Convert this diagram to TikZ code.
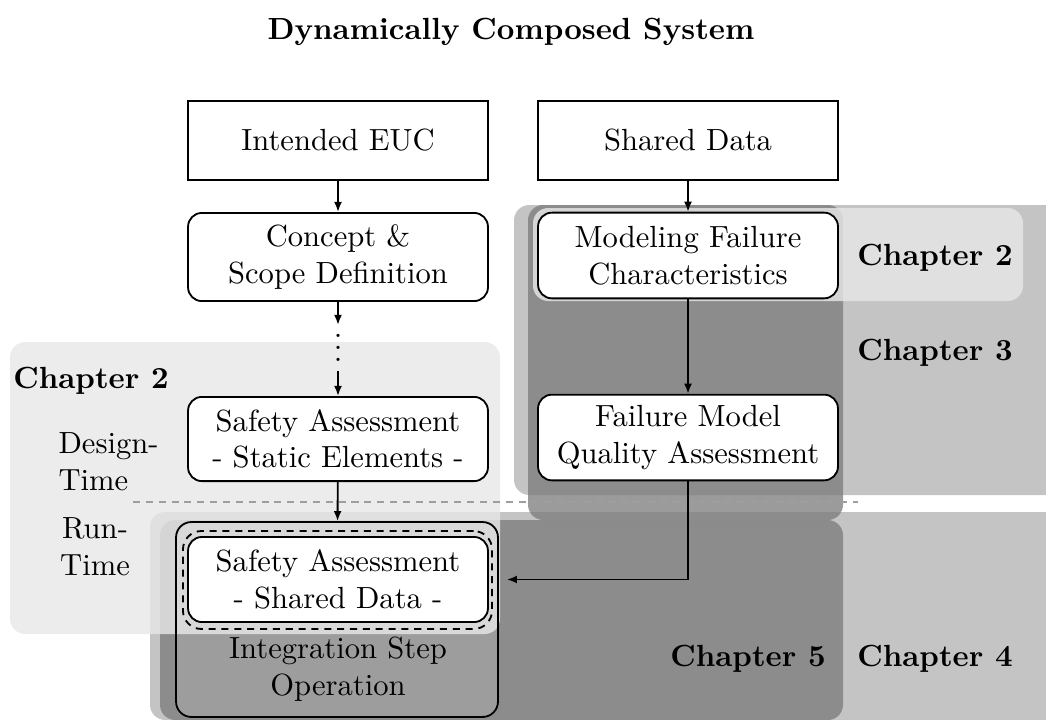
\documentclass[tikz,border=0pt]{standalone}
\usetikzlibrary{arrows.meta,calc,backgrounds}
\definecolor{chlight}{gray}{0.906}
\definecolor{chmid}{gray}{0.769}
\definecolor{chdark}{gray}{0.482}
\tikzset{
  box/.style={draw, line width=0.6pt, minimum width=98pt, align=center, inner sep=2pt, fill=white},
  rbox/.style={box, rounded corners=4.5pt},
  flow/.style={line width=0.6pt, -{Latex[length=3.3pt,width=2.6pt]}},
  chap/.style={font=\bfseries, anchor=base},
  regmid/.style={fill=chmid, rounded corners=5pt},
  regdark/.style={fill=chdark, fill opacity=0.76, rounded corners=5pt},
  reglight/.style={fill=chlight, fill opacity=0.81, rounded corners=5pt},
  dline/.style={dash pattern=on 2.3pt off 1.9pt}
}
\begin{document}
\begin{tikzpicture}[x=0.3268pt,y=-0.3268pt]
\useasboundingbox (0,0) rectangle (1046,719);
\node[font=\bfseries] (title) at (511,32) {Dynamically Composed System};
\node[box, minimum height=25.8pt] (euc) at (338,140.5) {Intended EUC};
\node[box, minimum height=25.8pt] (shared) at (688,140.5) {Shared Data};
\node[rbox, minimum height=28.8pt] (concept) at (338,257) {Concept \&\\Scope Definition};
\node[rbox, minimum height=28pt] (model) at (688,255.5) {Modeling Failure\\Characteristics};
\node[inner sep=2.8pt] (dots) at (338,348) {$\vcenter{\baselineskip=4pt\lineskiplimit=0pt\hbox{.}\hbox{.}\hbox{.}}$};
\node[rbox, minimum height=27.5pt] (static) at (338,439) {Safety Assessment\\- Static Elements -};
\node[rbox, minimum height=28pt] (qa) at (688,437.5) {Failure Model\\Quality Assessment};
\node[draw, line width=0.6pt, rounded corners=5pt, minimum width=105.2pt, minimum height=63.7pt] (integ) at (337,619.5) {};
\node[draw, dline, line width=0.6pt, rounded corners=6pt, minimum width=101pt, minimum height=32pt] (dbox) at (337.5,580) {};
\node[rbox, minimum height=27.8pt] (ssd) at (338,579.5) {Safety Assessment\\- Shared Data -};
\node[align=center] (inttext) at (338,669) {Integration Step\\Operation};

\node[chap] (c2r) at (935,265) {Chapter 2};
\node[chap] (c3) at (935,360.5) {Chapter 3};
\node[chap] (c5) at (748,666) {Chapter 5};
\node[chap] (c4) at (935,666) {Chapter 4};
\node[chap] (c2l) at (91,388.5) {Chapter 2};
\node[align=left, anchor=west, inner sep=0pt] (design) at (58,462) {Design-\\Time};
\node[align=center, inner sep=0pt] (run) at (95,547) {Run-\\Time};

\draw[flow] (euc) -- (concept);
\draw[flow] (concept) -- (dots);
\draw[flow] (dots) -- (static);
\draw[flow] (static) -- (integ);
\draw[flow] (shared) -- (model);
\draw[flow] (model) -- (qa);
\coordinate (qaend) at ($(integ.east |- ssd.east)+(8,0)$);
\draw[flow] (qa.south) |- (qaend);

\begin{scope}[on background layer]
  \path[regmid] (514,205) rectangle (1070,495);
  \path[regmid] (150,512) rectangle (1070,720);
  \path[regdark] (528,205) rectangle (843,520);
  \path[regdark] (160,520) rectangle (843,720);
  \path[fill=white, fill opacity=0.15, rounded corners=5pt] (integ.south west) rectangle (integ.north east);
  \path[reglight] (10,342) rectangle (500,634);
  \path[reglight] (533,208) rectangle (1023,301);
  \draw[black!38, dline, line width=0.5pt] (133,502) -- (858,502);
\end{scope}
\end{tikzpicture}
\end{document}
